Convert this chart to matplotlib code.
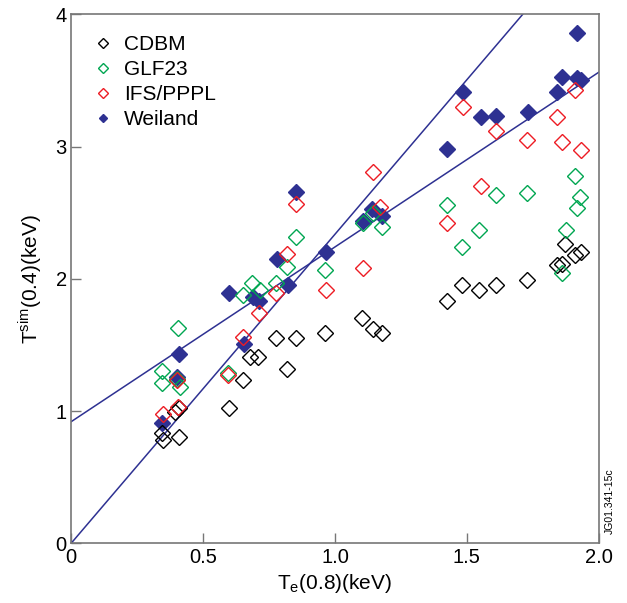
import matplotlib
matplotlib.use("Agg")
import matplotlib.pyplot as plt
import numpy as np

plt.rcParams['font.family'] = ['Liberation Sans', 'DejaVu Sans']

cdbm_x = [0.346, 0.350, 0.409, 0.394, 0.410, 0.598, 0.653, 0.678, 0.709, 0.777, 0.851, 0.819,
          0.963, 1.103, 1.143, 1.177, 1.423, 1.481, 1.547, 1.610, 1.727, 1.840, 1.861, 1.871, 1.909, 1.932]
cdbm_y = [0.833, 0.783, 0.803, 0.997, 1.022, 1.025, 1.236, 1.412, 1.408, 1.552, 1.552, 1.317,
          1.594, 1.703, 1.620, 1.589, 1.836, 1.955, 1.917, 1.955, 1.990, 2.106, 2.111, 2.262, 2.181, 2.202]

glf_x = [0.344, 0.346, 0.406, 0.413, 0.400, 0.596, 0.653, 0.684, 0.716, 0.777, 0.819, 0.852, 0.963,
         1.107, 1.145, 1.177, 1.423, 1.481, 1.547, 1.610, 1.727, 1.861, 1.875, 1.909, 1.928, 1.916]
glf_y = [1.307, 1.211, 1.627, 1.186, 1.242, 1.287, 1.879, 1.972, 1.917, 1.972, 2.088, 2.320, 2.068,
         2.421, 2.497, 2.395, 2.560, 2.244, 2.370, 2.635, 2.648, 2.043, 2.370, 2.779, 2.618, 2.539]

ifs_x = [0.348, 0.406, 0.400, 0.596, 0.653, 0.713, 0.777, 0.819, 0.851, 0.966, 1.105, 1.145, 1.170,
         1.423, 1.484, 1.552, 1.609, 1.727, 1.842, 1.860, 1.909, 1.931]
ifs_y = [0.979, 1.034, 1.236, 1.274, 1.564, 1.745, 1.896, 2.189, 2.565, 1.917, 2.081, 2.807, 2.547,
         2.421, 3.303, 2.705, 3.121, 3.051, 3.227, 3.036, 3.429, 2.975]

wei_x = [0.346, 0.410, 0.400, 0.600, 0.654, 0.691, 0.712, 0.779, 0.822, 0.851, 0.966, 1.107, 1.141,
         1.177, 1.425, 1.486, 1.553, 1.609, 1.732, 1.843, 1.861, 1.916, 1.931, 1.917]
wei_y = [0.913, 1.433, 1.261, 1.896, 1.506, 1.862, 1.831, 2.149, 1.957, 2.656, 2.204, 2.439, 2.529,
         2.476, 2.981, 3.412, 3.225, 3.235, 3.265, 3.416, 3.530, 3.518, 3.505, 3.860]

# fit lines (slope, intercept)
line1 = (2.338, 0.0)
line2 = (1.322, 0.92)

navy = '#2e3192'
fig = plt.figure(figsize=(6.27, 6.03), dpi=100)
ax = fig.add_axes([0.1132, 0.0987, 0.842, 0.8773])

xs = np.array([0.0, 2.0])
for s, b in (line1, line2):
    ax.plot(xs, s * xs + b, color=navy, lw=1.1, zorder=2)

ms = 8.5
ax.plot(wei_x, wei_y, 'D', ms=ms * 0.95, color=navy, mec=navy, ls='none', zorder=3, label='Weiland')
ax.plot(cdbm_x, cdbm_y, 'D', ms=ms, mfc='none', mec='black', mew=1.0, ls='none', zorder=4, label='CDBM')
ax.plot(glf_x, glf_y, 'D', ms=ms, mfc='none', mec='#00a651', mew=1.0, ls='none', zorder=4, label='GLF23')
ax.plot(ifs_x, ifs_y, 'D', ms=ms, mfc='none', mec='#ed1c24', mew=1.0, ls='none', zorder=4, label='IFS/PPPL')

ax.set_xlim(0, 2.0)
ax.set_ylim(0, 4)
ax.set_xticks([0, 0.5, 1.0, 1.5, 2.0])
ax.set_xticklabels(['0', '0.5', '1.0', '1.5', '2.0'])
ax.set_yticks([0, 1, 2, 3, 4])
ax.set_yticklabels(['0', '1', '2', '3', '4'])
ax.tick_params(direction='in', length=7, width=1, color='#777777', labelsize=14.5, pad=3)
for sp in ax.spines.values():
    sp.set_color('#777777')
    sp.set_linewidth(1.2)

ax.set_xlabel('T$_\\mathregular{e}$(0.8)(keV)', fontsize=15, labelpad=4)
ax.set_ylabel('T$^\\mathregular{sim}$(0.4)(keV)', fontsize=15, labelpad=8)

h, l = ax.get_legend_handles_labels()
order = [1, 2, 3, 0]
leg = ax.legend([h[i] for i in order], [l[i] for i in order], loc='upper left', frameon=False,
                fontsize=15, markerscale=0.55, handlelength=1.0, handletextpad=0.5,
                labelspacing=0.28, borderaxespad=0.5, bbox_to_anchor=(0.006, 0.996))

fig.text(0.972, 0.115, 'JG01.341-15c', rotation=90, fontsize=7.5, ha='center', va='bottom')

fig.savefig('out.png', dpi=100)
